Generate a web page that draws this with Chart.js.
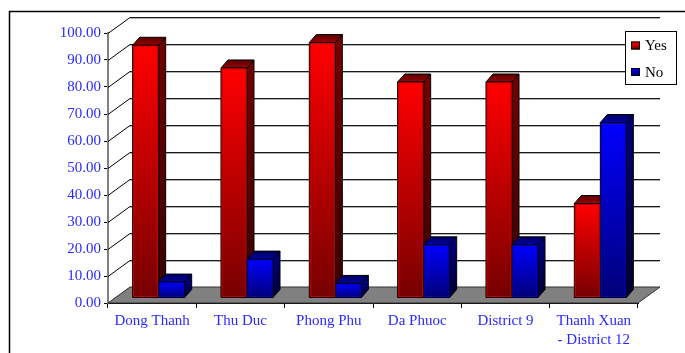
<!DOCTYPE html>
<html>
<head>
<meta charset="utf-8">
<script src="https://cdn.jsdelivr.net/npm/chart.js@4/dist/chart.umd.min.js"></script>
<style>
  html, body { margin: 0; padding: 0; background: #ffffff; }
  #wrap { width: 685px; height: 353px; position: relative; }
</style>
</head>
<body>
<div id="wrap"><canvas id="chart" width="685" height="353"></canvas></div>
<script>
// Survey answers per area (percent)
const categories = ['Dong Thanh', 'Thu Duc', 'Phong Phu', 'Da Phuoc', 'District 9', ['Thanh Xuan', '- District 12']];
const seriesNames = ['Yes', 'No'];
const yesValues = [93.6, 85.2, 94.6, 80.0, 80.0, 35.0];
const noValues = [5.9, 14.4, 5.4, 19.7, 19.7, 65.0];
const yAxisMin = 0;
const yAxisMax = 100;
const yAxisStep = 10;

// 3D look: wall depth, bar placement inside the depth, bar thickness
const WALL = { dx: 22, dy: -16 };
const BAR_SHIFT = { dx: 6.5, dy: -5 };
const BAR_DEPTH = { dx: 7, dy: -8 };

const FONT = "'Liberation Serif', 'Times New Roman', serif";
const LABEL_BLUE = '#2a2aff';

const palettes = [
  { front: ['#ff0000', '#760000'], side: ['#720000', '#380000'], top: ['#5a0000', '#9a0000'], edge: '#c00000' },
  { front: ['#0000ff', '#000078'], side: ['#000078', '#000030'], top: ['#000060', '#0000a0'], edge: '#0000c0' }
];

function vGrad(ctx, y0, y1, c) {
  const g = ctx.createLinearGradient(0, y0, 0, y1);
  g.addColorStop(0, c[0]);
  g.addColorStop(1, c[1]);
  return g;
}

function poly(ctx, pts, fill, stroke) {
  ctx.beginPath();
  ctx.moveTo(pts[0][0], pts[0][1]);
  for (let i = 1; i < pts.length; i++) ctx.lineTo(pts[i][0], pts[i][1]);
  ctx.closePath();
  ctx.fillStyle = fill;
  ctx.fill();
  if (stroke) {
    ctx.strokeStyle = stroke;
    ctx.lineWidth = 1;
    ctx.stroke();
  }
}

const scene3d = {
  id: 'scene3d',
  beforeDraw(chart) {
    const ctx = chart.ctx;
    ctx.save();
    ctx.strokeStyle = '#000';
    ctx.lineWidth = 1.5;
    ctx.strokeRect(9.5, 11.5, 720, 400);
    ctx.restore();
  },
  beforeDatasetsDraw(chart) {
    const { ctx, chartArea: a, scales } = chart;
    const ys = scales.y;
    ctx.save();

    // back wall grid lines and the diagonals joining them to the axis ticks
    ys.ticks.forEach(t => {
      const py = Math.round(ys.getPixelForValue(t.value)) + 0.5;
      ctx.strokeStyle = '#000';
      ctx.lineWidth = 1;
      ctx.beginPath();
      ctx.moveTo(a.left, py);
      ctx.lineTo(a.left + WALL.dx, py + WALL.dy);
      ctx.stroke();
      if (t.value > yAxisMin) {
        ctx.strokeStyle = '#b0b0b0';
        ctx.beginPath();
        ctx.moveTo(a.left + WALL.dx, py + WALL.dy + 1);
        ctx.lineTo(a.right + WALL.dx, py + WALL.dy + 1);
        ctx.stroke();
        ctx.strokeStyle = '#1a1a1a';
        ctx.beginPath();
        ctx.moveTo(a.left + WALL.dx, py + WALL.dy);
        ctx.lineTo(a.right + WALL.dx, py + WALL.dy);
        ctx.stroke();
      }
    });

    // floor
    const fy = ys.getPixelForValue(yAxisMin);
    poly(ctx, [
      [a.left, fy], [a.right, fy],
      [a.right + WALL.dx, fy + WALL.dy], [a.left + WALL.dx, fy + WALL.dy]
    ], '#808080', '#333');

    // bars, category by category so nearer faces overlap correctly
    const metas = chart.data.datasets.map((d, i) => chart.getDatasetMeta(i));
    const n = chart.data.labels.length;
    for (let i = 0; i < n; i++) {
      metas.forEach((meta, di) => {
        const el = meta.data[i];
        if (!el) return;
        const p = el.getProps(['x', 'y', 'base', 'width'], true);
        const pal = palettes[di];
        const x0 = p.x - p.width / 2 + BAR_SHIFT.dx;
        const x1 = p.x + p.width / 2 + BAR_SHIFT.dx;
        const top = p.y + BAR_SHIFT.dy;
        const bot = p.base + BAR_SHIFT.dy;
        const bx = BAR_DEPTH.dx, by = BAR_DEPTH.dy;
        // side face
        poly(ctx, [[x1, top], [x1 + bx, top + by], [x1 + bx, bot + by], [x1, bot]],
          vGrad(ctx, top, bot, pal.side), '#000');
        // top face
        poly(ctx, [[x0, top], [x0 + bx, top + by], [x1 + bx, top + by], [x1, top]],
          vGrad(ctx, top + by, top, pal.top), '#000');
        // front face
        poly(ctx, [[x0, top], [x1, top], [x1, bot], [x0, bot]],
          vGrad(ctx, top, bot, pal.front), '#000');
        ctx.strokeStyle = pal.edge;
        ctx.lineWidth = 1;
        ctx.strokeRect(x0 + 1, top + 1, x1 - x0 - 2, bot - top - 2);
      });
    }
    ctx.restore();
    return false;
  },
  afterDraw(chart) {
    // legend box
    const ctx = chart.ctx;
    ctx.save();
    const lx = 625.5, ly = 31.5, lw = 51, lh = 53;
    ctx.fillStyle = '#fff';
    ctx.fillRect(lx, ly, lw, lh);
    ctx.strokeStyle = '#000';
    ctx.lineWidth = 1;
    ctx.strokeRect(lx, ly, lw, lh);
    ctx.font = '15px ' + FONT;
    ctx.textBaseline = 'middle';
    chart.data.datasets.forEach((ds, i) => {
      const cy = 45.5 + i * 26.5;
      const pal = palettes[i];
      ctx.fillStyle = vGrad(ctx, cy - 4, cy + 4, [pal.front[0], pal.front[1]]);
      ctx.fillRect(631, cy - 4, 9, 8);
      ctx.strokeStyle = '#000';
      ctx.strokeRect(631.5, cy - 3.5, 8, 7);
      ctx.fillStyle = '#000';
      ctx.fillText(ds.label, 645, cy + 1);
    });
    ctx.restore();
  }
};

new Chart(document.getElementById('chart'), {
  type: 'bar',
  data: {
    labels: categories,
    datasets: [
      { label: seriesNames[0], data: yesValues, backgroundColor: '#ff0000' },
      { label: seriesNames[1], data: noValues, backgroundColor: '#0000ff' }
    ]
  },
  plugins: [scene3d],
  options: {
    responsive: false,
    animation: false,
    events: [],
    layout: { padding: { left: 0, top: 33, right: 47, bottom: 0 } },
    datasets: { bar: { categoryPercentage: 0.589, barPercentage: 1.0 } },
    plugins: { legend: { display: false }, tooltip: { enabled: false }, title: { display: false } },
    scales: {
      x: {
        afterFit(scale) { scale.height = 50; },
        grid: { drawOnChartArea: false, drawTicks: true, tickLength: 5, color: '#000', offset: true },
        border: { display: true, color: '#000', width: 1 },
        ticks: {
          color: LABEL_BLUE,
          padding: 4,
          maxRotation: 0,
          autoSkip: false,
          font: { family: FONT, size: 15, lineHeight: 1.25 }
        }
      },
      y: {
        min: yAxisMin,
        max: yAxisMax,
        afterFit(scale) { scale.width = 108; },
        grid: { drawOnChartArea: false, drawTicks: true, tickLength: 4, color: '#000' },
        border: { display: true, color: '#808080', width: 2 },
        ticks: {
          stepSize: yAxisStep,
          color: LABEL_BLUE,
          padding: 3,
          font: { family: FONT, size: 15 },
          callback: v => Number(v).toFixed(2)
        }
      }
    }
  }
});
</script>
</body>
</html>
